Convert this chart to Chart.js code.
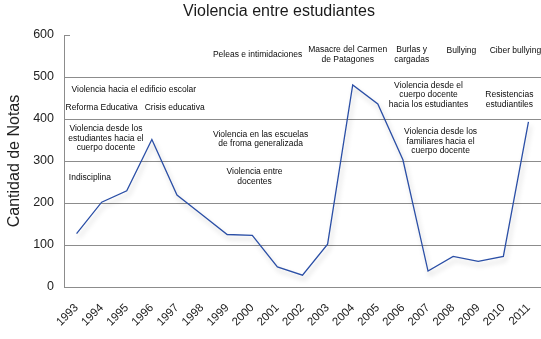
<!DOCTYPE html>
<html>
<head>
<meta charset="utf-8">
<script src="https://cdn.jsdelivr.net/npm/chart.js@4.4.1/dist/chart.umd.min.js"></script>
<style>
  html, body { margin: 0; padding: 0; background: #fff; }
  #wrap { width: 541px; height: 339px; }
</style>
</head>
<body>
<div id="wrap"><canvas id="notasLine"></canvas></div>
<script>
// datos
const years = ["1993", "1994", "1995", "1996", "1997", "1998", "1999", "2000", "2001", "2002",
               "2003", "2004", "2005", "2006", "2007", "2008", "2009", "2010", "2011"];
const notas = [127, 202, 229, 351, 219, 172, 125, 123, 48, 28,
               102, 481, 436, 303, 38, 73, 61, 73, 393];
const yTicks = [0, 100, 200, 300, 400, 500, 600];

// etiquetas de eventos (posicion en indice de año y en cantidad de notas)
const eventTexts = [
    "Violencia hacia el edificio escolar",
    "Reforma Educativa",
    "Crisis educativa",
    "Violencia desde los\nestudiantes hacia el\ncuerpo docente",
    "Indisciplina",
    "Peleas e intimidaciones",
    "Masacre del Carmen\nde Patagones",
    "Burlas y\ncargadas",
    "Bullying",
    "Ciber bullying",
    "Violencia desde el\ncuerpo docente\nhacia los estudiantes",
    "Resistencias\nestudiantiles",
    "Violencia en las escuelas\nde froma generalizada",
    "Violencia desde los\nfamiliares hacia el\ncuerpo docente",
    "Violencia entre\ndocentes"
];
const eventYear = [2.28, 1.0, 3.91, 1.17, 0.53, 7.21, 10.8, 13.35, 15.33, 17.48, 14.02, 17.24, 7.33, 14.5, 7.09];
const eventLevel = [471, 427, 427, 354, 260, 553, 553, 553, 563, 563, 457, 446, 352, 347, 263];

const GRID = "#8c8c8c";
const FONT = '"Liberation Sans", Arial, sans-serif';

const notesPlugin = {
    id: "notes",
    beforeDatasetsDraw(chart) {
        const ctx = chart.ctx;
        ctx.save();
        ctx.shadowColor = "rgba(0, 0, 0, 0.22)";
        ctx.shadowBlur = 5;
        ctx.shadowOffsetX = 2;
        ctx.shadowOffsetY = 4;
    },
    afterDatasetsDraw(chart) {
        chart.ctx.restore();
    },
    afterDraw(chart) {
        const { ctx, chartArea, scales: { x, y } } = chart;
        ctx.save();

        // small stub at the 600 line
        const y600 = Math.round(y.getPixelForValue(600)) + 0.5;
        ctx.strokeStyle = GRID;
        ctx.lineWidth = 1;
        ctx.beginPath();
        ctx.moveTo(chartArea.left, y600);
        ctx.lineTo(chartArea.left + 6, y600);
        ctx.stroke();

        ctx.fillStyle = "#1a1a1a";
        ctx.textAlign = "center";
        ctx.textBaseline = "middle";
        ctx.font = "16px " + FONT;
        ctx.fillText("Violencia entre estudiantes", 279, 12);

        ctx.font = "8.5px " + FONT;
        ctx.fillStyle = "#0a0a0a";
        eventTexts.forEach((text, i) => {
            const lines = text.split("\n");
            const px = x.getPixelForValue(eventYear[i]);
            const py = y.getPixelForValue(eventLevel[i]);
            const lh = 9.5;
            lines.forEach((line, j) => {
                ctx.fillText(line, px, py + (j - (lines.length - 1) / 2) * lh);
            });
        });
        ctx.restore();
    }
};

const ctx = document.getElementById("notasLine");

new Chart(ctx, {
    type: "line",
    data: {
        labels: years,
        datasets: [{
            label: "Notas",
            data: notas,
            borderColor: "#2b4fa6",
            borderWidth: 1.3,
            pointRadius: 0,
            tension: 0,
            fill: false
        }]
    },
    options: {
        responsive: true,
        maintainAspectRatio: false,
        animation: false,
        layout: { padding: { top: 35, right: 0, bottom: 0, left: 0 } },
        plugins: {
            legend: { display: false },
            tooltip: { enabled: false },
            title: { display: false }
        },
        scales: {
            x: {
                offset: true,
                afterFit: (scale) => {
                    scale.height = 52;
                    scale.paddingLeft = 0;
                    scale.paddingRight = 0;
                },
                grid: { display: false, drawTicks: false },
                border: { display: true, color: GRID, width: 1 },
                ticks: {
                    autoSkip: false,
                    maxRotation: 45,
                    minRotation: 45,
                    padding: 14,
                    color: "#222",
                    font: { family: FONT, size: 11.5 }
                }
            },
            y: {
                min: 0,
                max: 600,
                afterFit: (scale) => { scale.width = 64; },
                afterBuildTicks: (scale) => { scale.ticks = yTicks.map(v => ({ value: v })); },
                grid: {
                    drawTicks: false,
                    color: (c) => c.tick && c.tick.value === 600 ? "rgba(0,0,0,0)" : GRID
                },
                border: { display: true, color: GRID, width: 1 },
                ticks: {
                    padding: 10,
                    color: "#222",
                    font: { family: FONT, size: 12.5 }
                },
                title: {
                    display: true,
                    text: "Cantidad de Notas",
                    color: "#222",
                    padding: { top: 5, bottom: 0 },
                    font: { family: FONT, size: 16 }
                }
            }
        }
    },
    plugins: [notesPlugin]
});
</script>
</body>
</html>
